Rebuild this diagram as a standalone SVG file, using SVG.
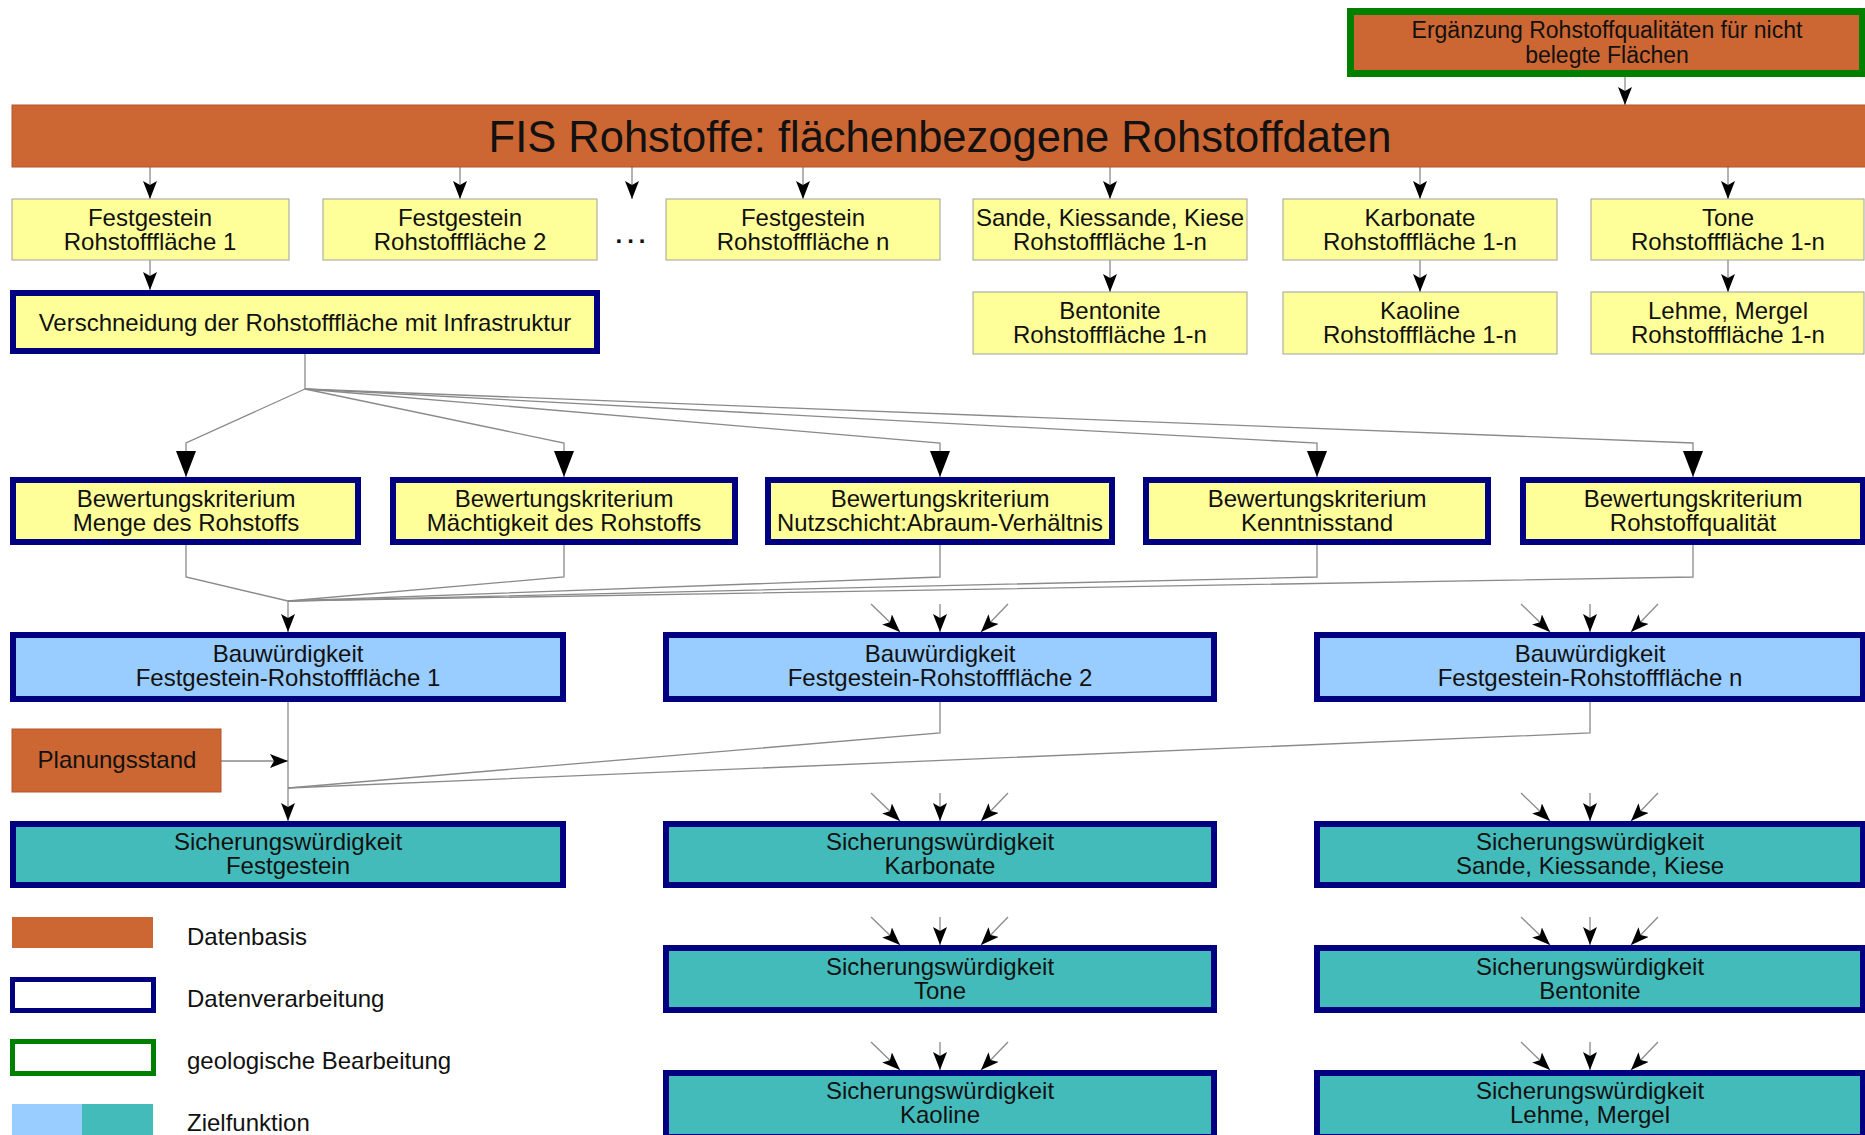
<svg xmlns="http://www.w3.org/2000/svg" width="1865" height="1135" viewBox="0 0 1865 1135">
<defs>
<style>
text{font-family:"Liberation Sans",Arial,sans-serif;font-size:24px;fill:#111;text-anchor:middle}
.org{fill:#CC6633;stroke:#B25529;stroke-width:1}
.yel{fill:#FFFF99;stroke:#A0A0A0;stroke-width:1}
.nav{stroke:#000080;stroke-width:6}
.grn{stroke:#008000;stroke-width:7}
.ny{fill:#FFFF99}
.bl{fill:#99CCFF}
.tl{fill:#44BBBB}
.c{fill:none;stroke:#8a8a8a;stroke-width:1.3}
.s{marker-end:url(#as)}
.l{marker-end:url(#al)}
.lg{text-anchor:start}
</style>
<marker id="as" viewBox="0 0 18 14" refX="18" refY="7" markerWidth="18" markerHeight="14" markerUnits="userSpaceOnUse" orient="auto">
<path d="M0,0 L18,7 L0,14 L4,7 z" fill="#000"/>
</marker>
<marker id="al" viewBox="0 0 26 20" refX="26" refY="10" markerWidth="26" markerHeight="20" markerUnits="userSpaceOnUse" orient="auto">
<path d="M0,0 L26,10 L0,20 z" fill="#000"/>
</marker>
</defs>
<rect width="1865" height="1135" fill="#fff"/>

<g id="connectors">
<path class="c s" d="M1625,77 V105"/>
<path class="c s" d="M150,167 V199"/>
<path class="c s" d="M460,167 V199"/>
<path class="c s" d="M632,167 V199"/>
<path class="c s" d="M803,167 V199"/>
<path class="c s" d="M1110,167 V199"/>
<path class="c s" d="M1420,167 V199"/>
<path class="c s" d="M1728,167 V199"/>
<path class="c s" d="M150,260 V290"/>
<path class="c s" d="M1110,260 V292"/>
<path class="c s" d="M1420,260 V292"/>
<path class="c s" d="M1728,260 V292"/>
<path class="c" d="M305,354 V389"/>
<path class="c l" d="M305,389 L186,443 V477"/>
<path class="c l" d="M305,389 L564,443 V477"/>
<path class="c l" d="M305,389 L940,443 V477"/>
<path class="c l" d="M305,389 L1317,443 V477"/>
<path class="c l" d="M305,389 L1693,443 V477"/>
<path class="c" d="M186,545 V577 L288,601"/>
<path class="c" d="M564,545 V577 L288,601"/>
<path class="c" d="M940,545 V577 L288,601"/>
<path class="c" d="M1317,545 V577 L288,601"/>
<path class="c" d="M1693,545 V577 L288,601"/>
<path class="c s" d="M288,601 V632"/>
<path class="c s" d="M288,702 V821"/>
<path class="c s" d="M221,761 H288"/>
<path class="c" d="M940,702 V733 L288,788"/>
<path class="c" d="M1590,702 V733 L288,788"/>
<path class="c s" d="M871,604 L900,632"/><path class="c s" d="M940,604 V632"/><path class="c s" d="M1008,604 L981,632"/>
<path class="c s" d="M1521,604 L1550,632"/><path class="c s" d="M1590,604 V632"/><path class="c s" d="M1658,604 L1631,632"/>
<path class="c s" d="M871,793 L900,821"/><path class="c s" d="M940,793 V821"/><path class="c s" d="M1008,793 L981,821"/>
<path class="c s" d="M1521,793 L1550,821"/><path class="c s" d="M1590,793 V821"/><path class="c s" d="M1658,793 L1631,821"/>
<path class="c s" d="M871,917 L900,945"/><path class="c s" d="M940,917 V945"/><path class="c s" d="M1008,917 L981,945"/>
<path class="c s" d="M1521,917 L1550,945"/><path class="c s" d="M1590,917 V945"/><path class="c s" d="M1658,917 L1631,945"/>
<path class="c s" d="M871,1042 L900,1070"/><path class="c s" d="M940,1042 V1070"/><path class="c s" d="M1008,1042 L981,1070"/>
<path class="c s" d="M1521,1042 L1550,1070"/><path class="c s" d="M1590,1042 V1070"/><path class="c s" d="M1658,1042 L1631,1070"/>
</g>

<g id="n-ergaenzung">
<rect class="org grn" x="1350.5" y="11.5" width="512" height="62"/>
<text x="1607" y="38" style="font-size:23px">Ergänzung Rohstoffqualitäten für nicht</text>
<text x="1607" y="63" style="font-size:23px">belegte Flächen</text>
</g>
<g id="n-fis">
<rect class="org" x="12" y="105" width="1860" height="62"/>
<text x="940" y="152" style="font-size:43.5px">FIS Rohstoffe: flächenbezogene Rohstoffdaten</text>
</g>

<g id="n-f1"><rect class="yel" x="12" y="199" width="277" height="61"/><text x="150" y="226">Festgestein</text><text x="150" y="250">Rohstofffläche 1</text></g>
<g id="n-f2"><rect class="yel" x="323" y="199" width="274" height="61"/><text x="460" y="226">Festgestein</text><text x="460" y="250">Rohstofffläche 2</text></g>
<g id="n-dots"><text x="633" y="243" style="font-weight:bold;letter-spacing:5px">...</text></g>
<g id="n-fn"><rect class="yel" x="666" y="199" width="274" height="61"/><text x="803" y="226">Festgestein</text><text x="803" y="250">Rohstofffläche n</text></g>
<g id="n-sande"><rect class="yel" x="973" y="199" width="274" height="61"/><text x="1110" y="226">Sande, Kiessande, Kiese</text><text x="1110" y="250">Rohstofffläche 1-n</text></g>
<g id="n-karb"><rect class="yel" x="1283" y="199" width="274" height="61"/><text x="1420" y="226">Karbonate</text><text x="1420" y="250">Rohstofffläche 1-n</text></g>
<g id="n-tone"><rect class="yel" x="1591" y="199" width="273" height="61"/><text x="1728" y="226">Tone</text><text x="1728" y="250">Rohstofffläche 1-n</text></g>
<g id="n-bent"><rect class="yel" x="973" y="292" width="274" height="62"/><text x="1110" y="319">Bentonite</text><text x="1110" y="343">Rohstofffläche 1-n</text></g>
<g id="n-kaol"><rect class="yel" x="1283" y="292" width="274" height="62"/><text x="1420" y="319">Kaoline</text><text x="1420" y="343">Rohstofffläche 1-n</text></g>
<g id="n-lehm"><rect class="yel" x="1591" y="292" width="273" height="62"/><text x="1728" y="319">Lehme, Mergel</text><text x="1728" y="343">Rohstofffläche 1-n</text></g>

<g id="n-versch"><rect class="ny nav" x="13" y="293" width="584" height="58"/><text x="305" y="331">Verschneidung der Rohstofffläche mit Infrastruktur</text></g>

<g id="n-b1"><rect class="ny nav" x="13" y="480" width="345" height="62"/><text x="186" y="507">Bewertungskriterium</text><text x="186" y="531">Menge des Rohstoffs</text></g>
<g id="n-b2"><rect class="ny nav" x="393" y="480" width="342" height="62"/><text x="564" y="507">Bewertungskriterium</text><text x="564" y="531">Mächtigkeit des Rohstoffs</text></g>
<g id="n-b3"><rect class="ny nav" x="768" y="480" width="344" height="62"/><text x="940" y="507">Bewertungskriterium</text><text x="940" y="531" textLength="326" lengthAdjust="spacingAndGlyphs">Nutzschicht:Abraum-Verhältnis</text></g>
<g id="n-b4"><rect class="ny nav" x="1146" y="480" width="342" height="62"/><text x="1317" y="507">Bewertungskriterium</text><text x="1317" y="531">Kenntnisstand</text></g>
<g id="n-b5"><rect class="ny nav" x="1523" y="480" width="340" height="62"/><text x="1693" y="507">Bewertungskriterium</text><text x="1693" y="531">Rohstoffqualität</text></g>

<g id="n-bw1"><rect class="bl nav" x="13" y="635" width="550" height="64"/><text x="288" y="662">Bauwürdigkeit</text><text x="288" y="686">Festgestein-Rohstofffläche 1</text></g>
<g id="n-bw2"><rect class="bl nav" x="666" y="635" width="548" height="64"/><text x="940" y="662">Bauwürdigkeit</text><text x="940" y="686">Festgestein-Rohstofffläche 2</text></g>
<g id="n-bwn"><rect class="bl nav" x="1317" y="635" width="546" height="64"/><text x="1590" y="662">Bauwürdigkeit</text><text x="1590" y="686">Festgestein-Rohstofffläche n</text></g>

<g id="n-plan"><rect class="org" x="12" y="729" width="209" height="63"/><text x="117" y="768">Planungsstand</text></g>

<g id="n-sf"><rect class="tl nav" x="13" y="824" width="550" height="61"/><text x="288" y="850">Sicherungswürdigkeit</text><text x="288" y="874">Festgestein</text></g>
<g id="n-sk"><rect class="tl nav" x="666" y="824" width="548" height="61"/><text x="940" y="850">Sicherungswürdigkeit</text><text x="940" y="874">Karbonate</text></g>
<g id="n-ss"><rect class="tl nav" x="1317" y="824" width="546" height="61"/><text x="1590" y="850">Sicherungswürdigkeit</text><text x="1590" y="874">Sande, Kiessande, Kiese</text></g>
<g id="n-st"><rect class="tl nav" x="666" y="948" width="548" height="62"/><text x="940" y="975">Sicherungswürdigkeit</text><text x="940" y="999">Tone</text></g>
<g id="n-sb"><rect class="tl nav" x="1317" y="948" width="546" height="62"/><text x="1590" y="975">Sicherungswürdigkeit</text><text x="1590" y="999">Bentonite</text></g>
<g id="n-ska"><rect class="tl nav" x="666" y="1073" width="548" height="64"/><text x="940" y="1099">Sicherungswürdigkeit</text><text x="940" y="1123">Kaoline</text></g>
<g id="n-sl"><rect class="tl nav" x="1317" y="1073" width="546" height="64"/><text x="1590" y="1099">Sicherungswürdigkeit</text><text x="1590" y="1123">Lehme, Mergel</text></g>

<g id="legend">
<rect x="12" y="917" width="141" height="31" fill="#CC6633"/>
<text class="lg" x="187" y="945">Datenbasis</text>
<rect x="12.5" y="979.5" width="141" height="31" fill="#fff" stroke="#000080" stroke-width="5"/>
<text class="lg" x="187" y="1007">Datenverarbeitung</text>
<rect x="12.5" y="1041.5" width="141" height="32" fill="#fff" stroke="#008000" stroke-width="5"/>
<text class="lg" x="187" y="1069">geologische Bearbeitung</text>
<rect x="12" y="1104" width="70" height="31" fill="#99CCFF"/>
<rect x="82" y="1104" width="71" height="31" fill="#44BBBB"/>
<text class="lg" x="187" y="1131">Zielfunktion</text>
</g>
</svg>
